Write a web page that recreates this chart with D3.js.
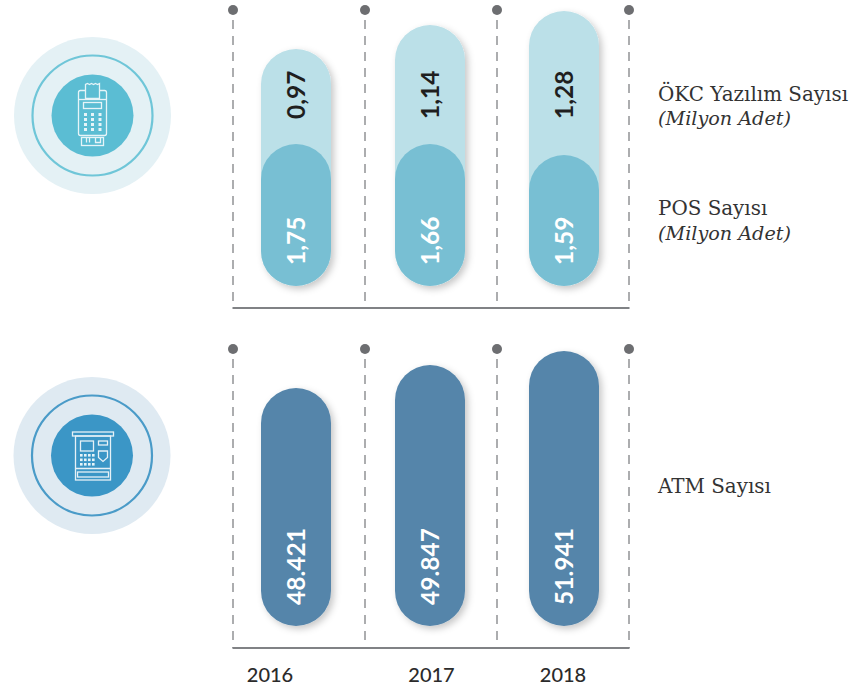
<!DOCTYPE html>
<html>
<head>
<meta charset="utf-8">
<script src="https://cdn.jsdelivr.net/npm/d3@7"></script>
<style>
  html, body { margin: 0; padding: 0; background: #fff; }
  svg { display: block; }
  .val { font-family: Lato, sans-serif; font-size: 24.5px; font-weight: 700; }
  .legend { font-family: "DejaVu Serif", serif; fill: #333; }
  .year text { font-family: Lato, sans-serif; font-size: 20px; font-weight: 500; fill: #2b2b2b; }
</style>
</head>
<body>
<div id="chart"></div>
<script>
const years = ['2016', '2017', '2018'];
const okcValues = [0.97, 1.14, 1.28];
const posValues = [1.75, 1.66, 1.59];
const atmValues = [48421, 49847, 51941];
const gridSteps = [0, 1, 2, 3];

const width = 851;
const height = 689;
const barBase = { top: 286, bottom: 626 };
const axisY = { top: 308, bottom: 648 };
const dotY = { top: 10, bottom: 349 };

const trFormat = d3.formatLocale({ decimal: ',', thousands: '.', grouping: [3], currency: ['', ''] });
const fmtSmall = trFormat.format('.2f');
const fmtLarge = trFormat.format(',d');

const svg = d3.select('#chart').append('svg')
  .attr('width', width)
  .attr('height', height);

const shadow = svg.append('defs').append('filter')
  .attr('id', 'bar-shadow')
  .attr('x', '-20%').attr('y', '-20%')
  .attr('width', '150%').attr('height', '150%');
shadow.append('feDropShadow')
  .attr('dx', 3).attr('dy', 3)
  .attr('stdDeviation', 3.5)
  .attr('flood-color', '#000')
  .attr('flood-opacity', 0.22);

// Shared x scales. The bars step a little wider than the dashed columns.
const xGrid = d3.scaleLinear().domain([0, 3]).range([233, 629]);
const xBar = d3.scaleBand().domain(years).range([229, 631])
  .paddingInner(64 / 134).paddingOuter(32 / 134);

// The source does not draw the bars from a true zero, so each y scale
// follows the picture piece by piece between the printed values.
const okcTotals = okcValues.map((d, i) => d + posValues[i]);
const yTotal = d3.scaleLinear().domain(okcTotals).range([49, 25, 11]);
const yPos = d3.scaleLinear().domain(posValues).range([144, 144, 155]);
const yAtm = d3.scaleLinear().domain(atmValues).range([388, 365, 351]);

function drawFrame(axis, dot) {
  const g = svg.append('g');
  g.selectAll('.dash').data(gridSteps).enter().append('line')
    .attr('x1', d => xGrid(d)).attr('x2', d => xGrid(d))
    .attr('y1', dot + 10).attr('y2', axis)
    .attr('stroke', '#808285').attr('stroke-width', 1.3)
    .attr('stroke-dasharray', '9,7');
  g.selectAll('.dot').data(gridSteps).enter().append('circle')
    .attr('cx', d => xGrid(d)).attr('cy', dot).attr('r', 5)
    .attr('fill', '#6d6e71');
  g.append('line')
    .attr('x1', xGrid(0) - 0.5).attr('x2', xGrid(3) + 0.5)
    .attr('y1', axis).attr('y2', axis)
    .attr('stroke', '#808285').attr('stroke-width', 2);
}

function drawBars(parent, values, topOf, base, fill) {
  parent.append('g')
    .selectAll('rect').data(values).enter().append('rect')
    .attr('x', (d, i) => xBar(years[i]))
    .attr('width', xBar.bandwidth())
    .attr('y', d => topOf(d))
    .attr('height', d => base - topOf(d))
    .attr('rx', xBar.bandwidth() / 2)
    .attr('fill', fill);
}

function drawValues(values, format, y, color) {
  svg.append('g').selectAll('text').data(values).enter().append('text')
    .attr('class', 'val')
    .attr('transform', (d, i) =>
      `translate(${xBar(years[i]) + xBar.bandwidth() / 2 + 9},${y}) rotate(-90)`)
    .attr('fill', color)
    .text(d => format(d));
}

drawFrame(axisY.top, dotY.top);
drawFrame(axisY.bottom, dotY.bottom);

// one filter round each stack, so the dark bar casts nothing on the light one
const topBars = svg.append('g').attr('filter', 'url(#bar-shadow)');
drawBars(topBars, okcTotals, yTotal, barBase.top, '#bbe0e8');
drawBars(topBars, posValues, yPos, barBase.top, '#78bfd3');
const lowBars = svg.append('g').attr('filter', 'url(#bar-shadow)');
drawBars(lowBars, atmValues, yAtm, barBase.bottom, '#5585aa');

drawValues(okcValues, fmtSmall, 119, '#1f1f1f');
drawValues(posValues, fmtSmall, 265, '#fff');
drawValues(atmValues, fmtLarge, 605, '#fff');

// Year labels sit off-centre in the source
const xYear = d3.scaleOrdinal().domain(years).range([269.5, 431, 562.5]);
svg.append('g')
  .attr('class', 'year')
  .attr('transform', 'translate(0,668)')
  .call(d3.axisBottom(xYear).tickSize(0).tickPadding(0))
  .call(g => g.select('.domain').remove());

// Legend labels
const legendRows = [
  { text: 'ÖKC Yazılım Sayısı', y: 101, italic: false },
  { text: '(Milyon Adet)', y: 125, italic: true },
  { text: 'POS Sayısı', y: 215, italic: false },
  { text: '(Milyon Adet)', y: 240, italic: true },
  { text: 'ATM Sayısı', y: 493, italic: false }
];
svg.append('g').selectAll('text').data(legendRows).enter().append('text')
  .attr('class', 'legend')
  .attr('x', 658)
  .attr('y', d => d.y)
  .attr('font-size', d => d.italic ? 19.2 : 19.9)
  .attr('font-style', d => d.italic ? 'italic' : 'normal')
  .text(d => d.text);

// Icons
function badge(cx, cy, outer, ringColor, inner) {
  const g = svg.append('g').attr('transform', `translate(${cx},${cy})`);
  g.append('circle').attr('r', 78.5).attr('fill', outer);
  g.append('circle').attr('r', 60).attr('fill', 'none')
    .attr('stroke', ringColor).attr('stroke-width', 2.2);
  g.append('circle').attr('r', 41).attr('fill', inner);
  return g.append('g')
    .attr('fill', 'none').attr('stroke', '#e6f4f8').attr('stroke-width', 1.3);
}

function keypad(g, xs, ys, size) {
  xs.forEach(x => ys.forEach(y => {
    g.append('rect').attr('x', x).attr('y', y)
      .attr('width', size).attr('height', size)
      .attr('fill', '#e6f4f8').attr('stroke', 'none');
  }));
}

const posIcon = badge(92.5, 115.5, '#e4f1f5', '#6fc6d8', '#5bbdd3');
posIcon.append('rect').attr('x', -14).attr('y', -25).attr('width', 28).attr('height', 45).attr('rx', 2);
posIcon.append('path').attr('d', 'M-7,-17V-31l2,-1 2,1 2,-1 2,1 2,-1 2,1 2,-1V-17Z').attr('fill', '#5bbdd3');
posIcon.append('line').attr('x1', -14).attr('x2', 14).attr('y1', -16).attr('y2', -16);
posIcon.append('rect').attr('x', -9).attr('y', -13).attr('width', 18).attr('height', 6);
keypad(posIcon, [-8.5, -1.5, 6], [-2.5, 2.5, 7.5, 12.5], 3);
posIcon.append('rect').attr('x', -11).attr('y', 22).attr('width', 22).attr('height', 8);
posIcon.append('path').attr('d', 'M-6,22V27M-3,22V27M3,22V27H8V22');

const atmIcon = badge(92, 455.5, '#dfeaf2', '#4a9bc8', '#3b96c6');
atmIcon.attr('stroke', '#e6f1f7');
atmIcon.append('rect').attr('x', -19.5).attr('y', -23.5).attr('width', 41).attr('height', 4);
atmIcon.append('rect').attr('x', -16.5).attr('y', -19.5).attr('width', 35).attr('height', 44);
atmIcon.append('rect').attr('x', -11.5).attr('y', -14.5).attr('width', 13).attr('height', 10);
atmIcon.append('rect').attr('x', 6.5).attr('y', -14.5).attr('width', 9).attr('height', 4);
atmIcon.append('path').attr('d', 'M6.5,-4.5H15.5V2L11,6 6.5,2Z');
keypad(atmIcon, [-12, -8, -4, 0], [-1.5, 3, 7.5], 2.6);
atmIcon.append('rect').attr('x', -14.5).attr('y', 16.5).attr('width', 31).attr('height', 5);
atmIcon.append('line').attr('x1', -16.5).attr('x2', 18.5).attr('y1', 13).attr('y2', 13);
</script>
</body>
</html>
